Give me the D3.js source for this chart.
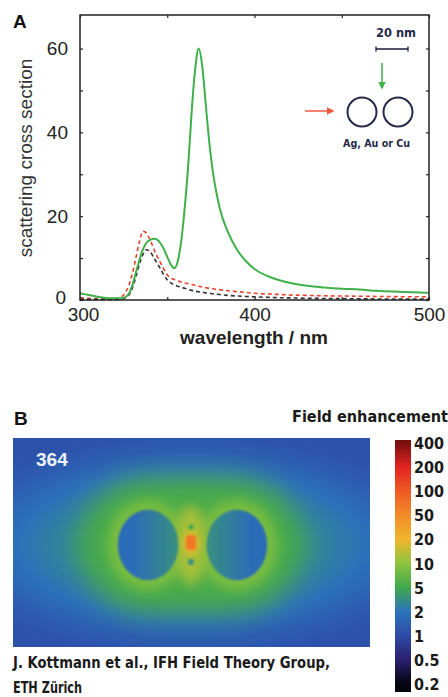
<!DOCTYPE html>
<html>
<head>
<meta charset="utf-8">
<script src="https://cdn.jsdelivr.net/npm/d3@7"></script>
<style>
  body { margin: 0; background: #fff; }
  svg { display: block; }
  .axis text { font-family: "Liberation Sans", Arial, sans-serif; fill: #222; }
  .cond { font-family: "DejaVu Sans Condensed", "Liberation Sans Narrow", sans-serif; font-weight: bold; fill: #1a1a1a; }
</style>
</head>
<body>
<svg width="448" height="697"></svg>
<script>
// ---------- panel A data: scattering cross section vs wavelength ----------
var wavelengths = [300, 305, 310, 315, 320, 324, 326, 328, 330, 332, 334, 336, 338, 340, 343, 346, 348, 350,
                   352, 354, 356, 358, 360, 362, 364, 366, 368, 370, 372, 374, 376, 378, 380, 385, 390, 395,
                   400, 410, 420, 430, 440, 450, 460, 470, 480, 490, 500];
var greenDimer = [1.6, 1.2, 0.8, 0.5, 0.4, 0.4, 0.7, 1.5, 3.5, 6.5, 9.5, 12.0, 13.6, 14.3, 14.6, 13.6, 12.2, 10.3,
                  8.5, 7.6, 9.2, 14, 22, 32, 45, 55, 60, 56, 47, 38, 31, 26, 22, 16, 12, 9.3,
                  7.4, 5.3, 4.1, 3.4, 3.0, 2.7, 2.5, 2.2, 2.0, 1.85, 1.7];
var redDimer = [0.5, 0.4, 0.3, 0.25, 0.3, 0.8, 1.8, 3.5, 6.3, 10, 13.8, 16.4, 16.0, 14.5, 11.5, 9.0, 7.4, 6.0,
                5.3, 4.9, 4.6, 4.3, 4.1, 3.9, 3.7, 3.5, 3.3, 3.1, 2.95, 2.8, 2.7, 2.55, 2.45, 2.2, 2.0, 1.8,
                1.6, 1.4, 1.2, 1.1, 1.0, 0.95, 0.9, 0.85, 0.8, 0.78, 0.75];
var blackSingle = [0.2, 0.15, 0.15, 0.15, 0.15, 0.2, 0.5, 1.2, 2.8, 5.5, 8.5, 10.8, 12.0, 11.6, 9.6, 7.5, 6.0, 4.8,
                   4.1, 3.6, 3.3, 3.0, 2.8, 2.5, 2.3, 2.1, 1.95, 1.85, 1.7, 1.6, 1.5, 1.4, 1.3, 1.1, 0.95, 0.85,
                   0.75, 0.6, 0.5, 0.42, 0.36, 0.32, 0.28, 0.25, 0.22, 0.2, 0.2];
var xMajor = [300, 400, 500];
var xMinor = [350, 450];
var yMajor = [0, 20, 40, 60];
var yMinor = [10, 30, 50];

// ---------- panel B data: field enhancement map ----------
var barTicks = [400, 200, 100, 50, 20, 10, 5, 2, 1, 0.5, 0.2];
var barColors = ["#7a0f10", "#e22420", "#ee5a24", "#f28c2a", "#f0b62c", "#8cc43e",
                 "#3fa84c", "#2b74bc", "#2e4aa6", "#2a1f6e", "#050510"];
var fieldProfile = [9, 6, 4, 2.6, 1.9, 1.4, 1.15];   // far field, from gap outwards
var haloValues = [5.5, 8.5, 12];                     // near-field glow around the dimer
var circleValues = [1.75, 3.3];                      // inside particles, outer -> inner side
var gapValues = [18, 65];                            // hot spot in the gap
var gapDarkValues = [3.2, 4.8];                      // small minima below / above the gap
var wavelengthShown = "364";

var svg = d3.select("svg");
var defs = svg.append("defs");

// ================= panel A =================
var x = d3.scaleLinear().domain([300, 500]).range([80, 429]);
var y = d3.scaleLinear().domain([0, 68]).range([300, 15]);

var gA = svg.append("g");

function series(vals) {
  return wavelengths.map(function(w, i) { return [w, vals[i]]; });
}
var line = d3.line()
  .x(function(d) { return x(d[0]); })
  .y(function(d) { return y(d[1]); })
  .curve(d3.curveMonotoneX);

gA.append("path").datum(series(redDimer))
  .attr("d", line).attr("fill", "none")
  .attr("stroke", "#e8412c").attr("stroke-width", 1.6).attr("stroke-dasharray", "4,3");
gA.append("path").datum(series(blackSingle))
  .attr("d", line).attr("fill", "none")
  .attr("stroke", "#333").attr("stroke-width", 1.6).attr("stroke-dasharray", "4,3");
gA.append("path").datum(series(greenDimer))
  .attr("d", line).attr("fill", "none")
  .attr("stroke", "#3fb04a").attr("stroke-width", 2);

var xTicks = xMajor.concat(xMinor), yTicks = yMajor.concat(yMinor);
function fmtX(d) { return xMajor.indexOf(d) >= 0 ? d : ""; }
function fmtY(d) { return yMajor.indexOf(d) >= 0 ? d : ""; }

var axB = gA.append("g").attr("class", "axis").attr("transform", "translate(0,300)")
  .call(d3.axisBottom(x).tickValues(xTicks).tickFormat(fmtX).tickSize(-3).tickSizeOuter(0).tickPadding(8));
var axL = gA.append("g").attr("class", "axis").attr("transform", "translate(80,0)")
  .call(d3.axisLeft(y).tickValues(yTicks).tickFormat(fmtY).tickSize(-3).tickSizeOuter(0).tickPadding(12));
var axT = gA.append("g").attr("class", "axis").attr("transform", "translate(0,15)")
  .call(d3.axisTop(x).tickValues(xTicks).tickFormat("").tickSize(-3).tickSizeOuter(0));
var axR = gA.append("g").attr("class", "axis").attr("transform", "translate(429,0)")
  .call(d3.axisRight(y).tickValues(yTicks).tickFormat("").tickSize(-3).tickSizeOuter(0));

[axB, axL, axT, axR].forEach(function(a) {
  a.select(".domain").remove();
  a.selectAll("line").attr("stroke", "#222").attr("stroke-width", 1.2);
  a.selectAll("text").attr("font-size", 19);
});
// first x label sits a little right of its tick, the "0" a little left, as in the original
axB.selectAll(".tick text").filter(function(d) { return d === 300; }).attr("dx", 3);
axL.selectAll(".tick text").filter(function(d) { return d === 0; }).attr("dx", -2).attr("dy", "0.2em");

gA.append("rect")
  .attr("x", 80).attr("y", 15).attr("width", 349).attr("height", 285)
  .attr("fill", "none").attr("stroke", "#222").attr("stroke-width", 1.5);

gA.append("text").attr("x", 13).attr("y", 28)
  .attr("font-family", "Liberation Sans, Arial, sans-serif").attr("font-weight", "bold")
  .attr("font-size", 19).attr("fill", "#111").text("A");

gA.append("text")
  .attr("transform", "translate(32,158) rotate(-90)")
  .attr("text-anchor", "middle")
  .attr("font-family", "Liberation Sans, Arial, sans-serif")
  .attr("font-size", 19).attr("fill", "#333")
  .text("scattering cross section");

gA.append("text").attr("x", 254).attr("y", 344)
  .attr("text-anchor", "middle")
  .attr("font-family", "Liberation Sans, Arial, sans-serif").attr("font-weight", "bold")
  .attr("font-size", 19).attr("fill", "#222")
  .text("wavelength / nm");

// inset: dimer sketch with polarisations
var navy = "#262a4a";
defs.append("marker").attr("id", "arrG")
  .attr("viewBox", "0 0 10 10").attr("refX", 8).attr("refY", 5)
  .attr("markerWidth", 5).attr("markerHeight", 5).attr("orient", "auto")
  .append("path").attr("d", "M0,0 L10,5 L0,10 z").attr("fill", "#3fb04a");
defs.append("marker").attr("id", "arrR")
  .attr("viewBox", "0 0 10 10").attr("refX", 8).attr("refY", 5)
  .attr("markerWidth", 5).attr("markerHeight", 5).attr("orient", "auto")
  .append("path").attr("d", "M0,0 L10,5 L0,10 z").attr("fill", "#f0583e");

var inset = gA.append("g");
inset.append("text").attr("class", "cond").attr("x", 376).attr("y", 37)
  .attr("font-size", 12).style("fill", navy)
  .attr("textLength", 40).attr("lengthAdjust", "spacingAndGlyphs").text("20 nm");
inset.append("line").attr("x1", 376).attr("x2", 408).attr("y1", 49).attr("y2", 49)
  .attr("stroke", navy).attr("stroke-width", 1.6);
[376, 408].forEach(function(px) {
  inset.append("line").attr("x1", px).attr("x2", px).attr("y1", 46.5).attr("y2", 51.5)
    .attr("stroke", navy).attr("stroke-width", 1.4);
});
inset.append("line").attr("x1", 382).attr("x2", 382).attr("y1", 63).attr("y2", 88)
  .attr("stroke", "#3fb04a").attr("stroke-width", 1.5).attr("marker-end", "url(#arrG)");
inset.append("line").attr("x1", 305).attr("x2", 333).attr("y1", 111).attr("y2", 111)
  .attr("stroke", "#f0583e").attr("stroke-width", 1.5).attr("marker-end", "url(#arrR)");
[362, 398].forEach(function(cx) {
  inset.append("circle").attr("cx", cx).attr("cy", 112).attr("r", 14.5)
    .attr("fill", "none").attr("stroke", navy).attr("stroke-width", 2);
});
inset.append("text").attr("class", "cond").attr("x", 343).attr("y", 147)
  .attr("font-size", 11).style("fill", navy)
  .attr("textLength", 67).attr("lengthAdjust", "spacingAndGlyphs").text("Ag, Au or Cu");

// ================= panel B =================
var color = d3.scaleLog().domain(barTicks).range(barColors).clamp(true);

var hx0 = 13, hy0 = 438, hw = 357, hh = 209;
var cx = 191, cy = 545;

defs.append("clipPath").attr("id", "mapClip")
  .append("rect").attr("x", hx0).attr("y", hy0).attr("width", hw).attr("height", hh);

var far = defs.append("radialGradient").attr("id", "farField")
  .attr("gradientUnits", "userSpaceOnUse")
  .attr("cx", cx).attr("cy", cy).attr("r", 260)
  .attr("gradientTransform", "translate(" + cx + "," + cy + ") scale(1,0.43) translate(" + (-cx) + "," + (-cy) + ")");
far.selectAll("stop").data(fieldProfile).join("stop")
  .attr("offset", function(d, i) { return i / (fieldProfile.length - 1); })
  .attr("stop-color", function(d) { return color(d); });

[["blur14", 14], ["blur6", 6], ["blur3", 3], ["blur1", 1.2]].forEach(function(f) {
  defs.append("filter").attr("id", f[0]).attr("x", "-50%").attr("y", "-50%")
    .attr("width", "200%").attr("height", "200%")
    .append("feGaussianBlur").attr("stdDeviation", f[1]);
});

["L", "R"].forEach(function(side, i) {
  var g = defs.append("linearGradient").attr("id", "circ" + side)
    .attr("x1", i ? 1 : 0).attr("x2", i ? 0 : 1).attr("y1", 0).attr("y2", 0);
  g.selectAll("stop").data(circleValues).join("stop")
    .attr("offset", function(d, j) { return j ? 1 : 0.25; })
    .attr("stop-color", function(d) { return color(d); });
});

var gB = svg.append("g").attr("clip-path", "url(#mapClip)");
gB.append("rect").attr("x", hx0).attr("y", hy0).attr("width", hw).attr("height", hh)
  .attr("fill", "url(#farField)");

// near-field glow
gB.append("rect").attr("x", 82).attr("y", 478).attr("width", 218).attr("height", 134).attr("rx", 67)
  .attr("fill", color(haloValues[0])).attr("filter", "url(#blur14)");
[148, 237].forEach(function(px) {
  gB.append("ellipse").attr("cx", px).attr("cy", cy).attr("rx", 40).attr("ry", 45)
    .attr("fill", color(haloValues[1])).attr("filter", "url(#blur6)");
});
gB.append("ellipse").attr("cx", cx).attr("cy", cy).attr("rx", 16).attr("ry", 40)
  .attr("fill", color(haloValues[2])).attr("filter", "url(#blur6)");

// particles
[["L", 148], ["R", 237]].forEach(function(p) {
  gB.append("ellipse").attr("cx", p[1]).attr("cy", cy).attr("rx", 30).attr("ry", 35)
    .attr("fill", "url(#circ" + p[0] + ")")
    .attr("stroke", color(1.6)).attr("stroke-opacity", 0.5).attr("stroke-width", 1)
    .attr("filter", "url(#blur1)");
});

// gap hot spot
gB.append("ellipse").attr("cx", cx).attr("cy", 543).attr("rx", 8).attr("ry", 12)
  .attr("fill", color(gapValues[0])).attr("filter", "url(#blur3)");
gB.append("rect").attr("x", cx - 5).attr("y", 535).attr("width", 10).attr("height", 15).attr("rx", 3)
  .attr("fill", color(gapValues[1])).attr("filter", "url(#blur1)");
gB.append("circle").attr("cx", cx).attr("cy", 562).attr("r", 3)
  .attr("fill", color(gapDarkValues[0])).attr("filter", "url(#blur1)");
gB.append("circle").attr("cx", cx).attr("cy", 527).attr("r", 2.5)
  .attr("fill", color(gapDarkValues[1])).attr("filter", "url(#blur1)");

gB.append("text").attr("x", 36).attr("y", 466)
  .attr("font-family", "Liberation Sans, Arial, sans-serif").attr("font-weight", "bold")
  .attr("font-size", 19).attr("fill", "#eef2fa").text(wavelengthShown);

svg.append("text").attr("x", 14).attr("y", 425)
  .attr("font-family", "Liberation Sans, Arial, sans-serif").attr("font-weight", "bold")
  .attr("font-size", 19).attr("fill", "#111").text("B");

// colour bar
var barTop = 440, barBottom = 692, barX = 395, barW = 16;
var barY = d3.scalePoint().domain(barTicks).range([443, 684]);
var bg = defs.append("linearGradient").attr("id", "barGrad")
  .attr("x1", 0).attr("x2", 0).attr("y1", 0).attr("y2", 1);
bg.selectAll("stop").data(barTicks).join("stop")
  .attr("offset", function(d) { return (barY(d) - barTop) / (barBottom - barTop); })
  .attr("stop-color", function(d) { return color(d); });
svg.append("rect").attr("x", barX).attr("y", barTop).attr("width", barW).attr("height", barBottom - barTop)
  .attr("fill", "url(#barGrad)");
svg.append("g").selectAll("text").data(barTicks).join("text")
  .attr("class", "cond")
  .attr("x", 414).attr("y", function(d) { return barY(d) + 6; })
  .attr("font-size", 16)
  .text(function(d) { return d; });

svg.append("text").attr("class", "cond").attr("x", 292).attr("y", 422)
  .attr("font-size", 16).attr("textLength", 156).attr("lengthAdjust", "spacingAndGlyphs")
  .text("Field enhancement");

svg.append("text").attr("class", "cond").attr("x", 13).attr("y", 668)
  .attr("font-size", 15).attr("textLength", 317).attr("lengthAdjust", "spacingAndGlyphs")
  .text("J. Kottmann et al., IFH Field Theory Group,");
svg.append("text").attr("class", "cond").attr("x", 13).attr("y", 693)
  .attr("font-size", 15).attr("textLength", 69).attr("lengthAdjust", "spacingAndGlyphs")
  .text("ETH Zürich");
</script>
</body>
</html>
